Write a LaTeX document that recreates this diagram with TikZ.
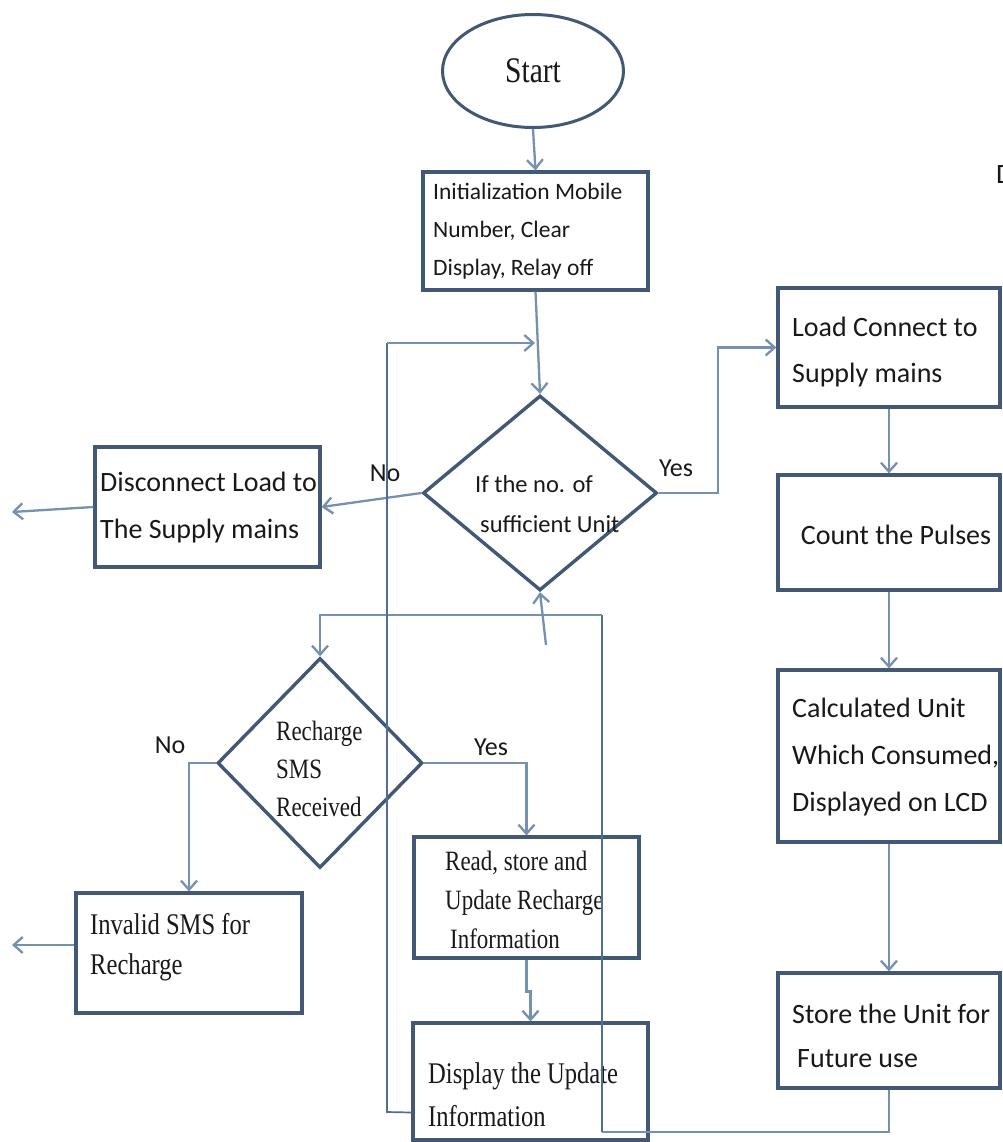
\documentclass[tikz,border=0pt]{standalone}
\usepackage{fontspec}
\setmainfont{Carlito}
\newfontfamily\tms[FakeStretch=0.82]{Liberation Serif}
\usetikzlibrary{shapes.geometric,arrows.meta}
\definecolor{boxc}{HTML}{435875}
\definecolor{linec}{HTML}{7690B0}
\definecolor{loopc}{HTML}{4F6D96}
\begin{document}
\begin{tikzpicture}[x=1pt,y=-1pt,
  box/.style={draw=boxc,line width=3.2pt,inner sep=0pt},
  dia/.style={draw=boxc,line width=3.4pt,diamond,inner sep=0pt},
  ctext/.style={anchor=west,align=left,inner sep=0pt,text=black!90},
  ttext/.style={anchor=west,align=left,inner sep=0pt,text=black!90},
  lab/.style={inner sep=0pt,text=black!90,font=\fontsize{26}{30}\selectfont},
  conn/.style={draw=linec,line width=2.3pt},
  loopl/.style={draw=loopc,line width=1.7pt},
  tip/.style={-{Straight Barb[length=9pt,width=16pt]}}]
\fill[white] (0,0) rectangle (1002,1142);
\useasboundingbox (0,0) rectangle (1002,1142);

% Start
\node[draw=boxc,line width=3pt,ellipse,minimum width=181pt,minimum height=113pt,inner sep=0pt,
  font=\tms\fontsize{36}{40}\selectfont,text=black!90] (start) at (533,71) {\raisebox{-8pt}{Start}};

% Boxes
\node[box,minimum width=225pt,minimum height=118pt] (init) at (535.5,231) {};
\node[ctext,font=\fontsize{23.5}{38}\selectfont] (initT) at (433,231) {Initialization Mobile\\Number, Clear\\Display, Relay off};

\node[box,minimum width=222pt,minimum height=119pt] (load) at (889,347.5) {};
\node[ctext,font=\fontsize{28}{46}\selectfont] (loadT) at (792,352) {Load Connect to\\Supply mains};

\node[box,minimum width=222pt,minimum height=115pt] (count) at (889,532.5) {};
\node[inner sep=0pt,text=black!90,font=\fontsize{28}{46}\selectfont] (countT) at (896,535) {Count the Pulses};

\node[box,minimum width=222pt,minimum height=172pt] (calc) at (889,756) {};
\node[ctext,font=\fontsize{28}{47}\selectfont] (calcT) at (792,757) {Calculated Unit\\Which Consumed,\\Displayed on LCD};

\node[box,minimum width=222pt,minimum height=115pt] (store) at (889,1030.5) {};
\node[ctext,font=\fontsize{28}{44}\selectfont] (storeT) at (792,1036) {Store the Unit for\\\hspace{5pt}Future use};

\node[box,minimum width=225pt,minimum height=120pt] (disc) at (207.5,507) {};
\node[ctext,font=\fontsize{28}{47}\selectfont] (discT) at (100,508) {Disconnect Load to\\The Supply mains};

\node[box,minimum width=226pt,minimum height=120pt] (inv) at (189,953) {};
\node[ttext,font=\tms\fontsize{30}{40}\selectfont] (invT) at (90,947) {Invalid SMS for\\Recharge};

\node[box,minimum width=225pt,minimum height=121pt] (read) at (526.5,897.5) {};
\node[ttext,font=\tms\fontsize{28}{39}\selectfont] (readT) at (445,900) {Read, store and\\Update Recharge\\\hspace{5pt}Information};

\node[box,minimum width=235pt,minimum height=117pt] (disp) at (530.5,1081.5) {};
\node[ttext,font=\tms\fontsize{30}{43}\selectfont] (dispT) at (428,1095) {Display the Update\\Information};

% Diamonds
\node[dia,minimum width=234pt,minimum height=195pt] (d1) at (540,493) {};
\node[ctext,font=\fontsize{24.5}{40}\selectfont] (d1T) at (475,504) {If the no. of\\\hspace{5pt}sufficient Unit};

\node[dia,minimum width=205pt,minimum height=210pt] (d2) at (320,763) {};
\node[ttext,font=\tms\fontsize{28}{38}\selectfont] (d2T) at (276,769) {Recharge\\SMS\\Received};

% Labels
\node[lab] (no1) at (385,473) {No};
\node[lab] (yes1) at (676,468) {Yes};
\node[lab] (no2) at (170,745) {No};
\node[lab] (yes2) at (491,747) {Yes};
\node[anchor=west,inner sep=0pt,text=black!90,font=\fontsize{28}{34}\selectfont] (dcut) at (996,175) {D};

% Coordinates
\coordinate (yk) at (718,493);
\coordinate (discEnd) at (12,512);
\coordinate (invEnd) at (12,945);
\coordinate (stub) at (546,645);
\coordinate (bl) at (602,1132);
\coordinate (tl) at (602,615);
\coordinate (lp1) at (387,1112);
\coordinate (lp2) at (387,343);
\coordinate (lpEnd) at (535,343);

% Connectors
\draw[conn,tip] (start.south) -- (init.north);
\draw[conn,tip] (init.south) -- (d1.north);
\draw[conn,tip] (d1.west) -- (disc.east);
\draw[conn,tip] (disc.west) -- (discEnd);
\draw[conn,tip] (d1.east) -- (yk) |- (load.west);
\draw[conn,tip] (load.south) -- (count.north);
\draw[conn,tip] (count.south) -- (calc.north);
\draw[conn,tip] (calc.south) -- (store.north);
\draw[conn] (store.south) |- (bl);
\draw[loopl] (bl) -- (tl);
\draw[conn,tip] (tl) -| (d2.north);
\draw[conn,tip] (stub) -- (d1.south);
\draw[conn,tip] (d2.west) -| (inv.north);
\draw[conn,tip] ([yshift=8pt]inv.west) -- (invEnd);
\draw[conn,tip] (d2.east) -| (read.north);
\draw[conn,tip] (read.south) -- ++(0,32) -| (disp.north);
\draw[loopl] ([yshift=-31pt]disp.west) -- (lp1) -- (lp2);
\draw[conn,tip] (lp2) -- (lpEnd);
\end{tikzpicture}
\end{document}
